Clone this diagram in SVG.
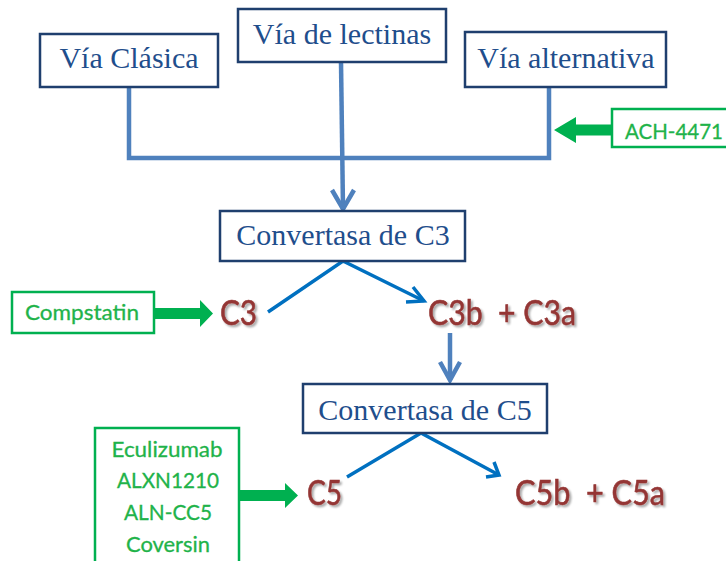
<svg xmlns="http://www.w3.org/2000/svg" width="726" height="561" viewBox="0 0 726 561">
  <defs>
    <style>
      .box rect { fill: #ffffff; stroke: #1f3f6e; stroke-width: 2.5; }
      .box text { font-family: "Liberation Serif", "Times New Roman", serif; font-size: 30px; fill: #1f4e8c; text-anchor: middle; }
      .drug rect { fill: #ffffff; stroke: #00b050; stroke-width: 2.5; }
      .drug text { font-family: Lato, "Open Sans", sans-serif; font-size: 21px; fill: #1fb34a; text-anchor: middle; stroke: #1fb34a; stroke-width: 0.3; }
      .prod text { font-family: Lato, "Open Sans", sans-serif; font-size: 34px; fill: #943634; stroke: #943634; stroke-width: 0.6; filter: url(#shadow); }
      .blue { fill: none; stroke: #4f81bd; stroke-width: 4.5; stroke-linejoin: miter; }
      .blue2 { fill: none; stroke: #0070c0; stroke-width: 3.5; }
      .green { fill: #00b050; }
    </style>
    <filter id="shadow" x="-10%" y="-10%" width="130%" height="140%">
      <feGaussianBlur in="SourceAlpha" stdDeviation="1"/>
      <feOffset dx="1.5" dy="2" result="o"/>
      <feComponentTransfer><feFuncA type="linear" slope="0.35"/></feComponentTransfer>
      <feMerge><feMergeNode/><feMergeNode in="SourceGraphic"/></feMerge>
    </filter>
  </defs>
  <rect width="726" height="561" fill="#ffffff"/>

  <g id="connectors">
    <polyline class="blue" points="129,87 129,158 549,158 549,87"/>
    <line class="blue" x1="341" y1="62" x2="343" y2="209"/>
    <polyline class="blue" points="332,190 343,209 354,190"/>
    <line class="blue" x1="450" y1="333" x2="450" y2="380"/>
    <polyline class="blue" points="440,362 450,380 460,362"/>
    <polyline class="blue2" points="268,312 343,261 424,301"/>
    <polyline class="blue2" points="413,287 424,301 406,302"/>
    <polyline class="blue2" points="347,477 421,433 499,475"/>
    <polyline class="blue2" points="494,462 499,475 486,477"/>
    <polygon class="green" points="612,124.5 576,124.5 576,117 554,130 576,143 576,135.5 612,135.5"/>
    <polygon class="green" points="154,308 200,308 200,300 213,313.5 200,327 200,319 154,319"/>
    <polygon class="green" points="239,490 285,490 285,483 298,495.5 285,508 285,501 239,501"/>
  </g>

  <g id="via-clasica" class="box">
    <rect x="40" y="34" width="178" height="53"/>
    <text x="129" y="68">Vía Clásica</text>
  </g>
  <g id="via-lectinas" class="box">
    <rect x="238" y="9" width="208" height="53"/>
    <text x="342" y="44">Vía de lectinas</text>
  </g>
  <g id="via-alternativa" class="box">
    <rect x="465" y="32" width="201" height="55"/>
    <text x="566" y="68">Vía alternativa</text>
  </g>
  <g id="convertasa-c3" class="box">
    <rect x="220" y="211" width="245" height="50"/>
    <text x="343" y="245">Convertasa de C3</text>
  </g>
  <g id="convertasa-c5" class="box">
    <rect x="303" y="384" width="244" height="49"/>
    <text x="425" y="420">Convertasa de C5</text>
  </g>

  <g id="ach-4471" class="drug">
    <rect x="612" y="109" width="120" height="38"/>
    <text x="674" y="139" textLength="98" lengthAdjust="spacingAndGlyphs">ACH-4471</text>
  </g>
  <g id="compstatin" class="drug">
    <rect x="12" y="292" width="142" height="41"/>
    <text x="82" y="320" textLength="114" lengthAdjust="spacingAndGlyphs">Compstatin</text>
  </g>
  <g id="c5-inhibitors" class="drug">
    <rect x="95" y="428" width="144" height="140"/>
    <text x="167" y="457" textLength="111" lengthAdjust="spacingAndGlyphs">Eculizumab</text>
    <text x="168" y="488" textLength="102" lengthAdjust="spacingAndGlyphs">ALXN1210</text>
    <text x="168" y="520" textLength="88" lengthAdjust="spacingAndGlyphs">ALN-CC5</text>
    <text x="168" y="552" textLength="84" lengthAdjust="spacingAndGlyphs">Coversin</text>
  </g>

  <g id="c3" class="prod">
    <text x="220" y="325" textLength="37" lengthAdjust="spacingAndGlyphs">C3</text>
  </g>
  <g id="c3b-c3a" class="prod">
    <text x="428" y="325" textLength="148" lengthAdjust="spacingAndGlyphs" xml:space="preserve">C3b  + C3a</text>
  </g>
  <g id="c5" class="prod">
    <text x="307" y="505" textLength="35" lengthAdjust="spacingAndGlyphs">C5</text>
  </g>
  <g id="c5b-c5a" class="prod">
    <text x="515" y="505" textLength="150" lengthAdjust="spacingAndGlyphs" xml:space="preserve">C5b  + C5a</text>
  </g>
</svg>
